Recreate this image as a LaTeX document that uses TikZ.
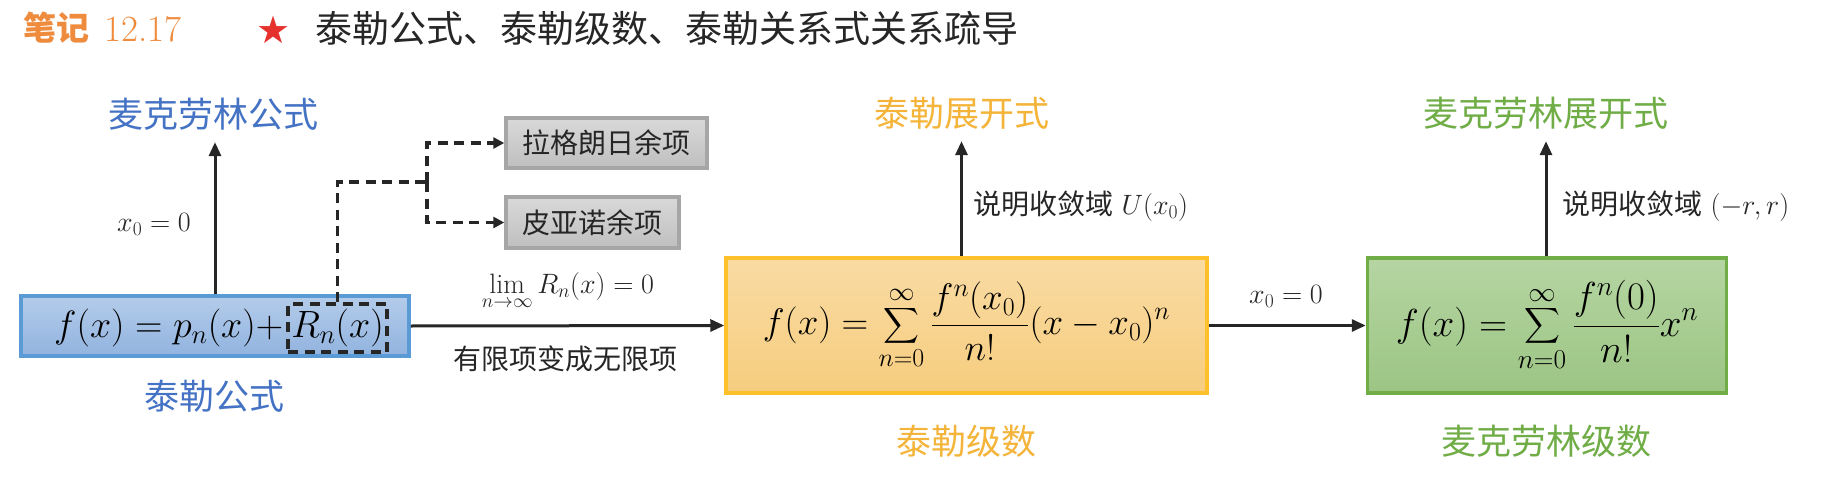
\RequirePackage{fix-cm}
\documentclass[tikz,border=0pt]{standalone}
\usepackage{amsmath}
\usepackage{exscale}
\usepackage{fontspec}
\newfontfamily\cjk{Noto Sans CJK SC}
\newfontfamily\symf{DejaVu Sans}
\usetikzlibrary{arrows.meta,calc}
\newcommand\fsz[1]{\fontsize{#1}{#1}\selectfont}
\definecolor{ink}{HTML}{262626}
\definecolor{titleorange}{HTML}{EF8B3D}
\definecolor{starred}{HTML}{E5322D}
\definecolor{bluetxt}{HTML}{4472C4}
\definecolor{blueborder}{HTML}{5B9BD5}
\definecolor{bluetop}{HTML}{B4CCEA}
\definecolor{bluebot}{HTML}{91B3DF}
\definecolor{grayborder}{HTML}{A6A6A6}
\definecolor{graytop}{HTML}{D9D9D9}
\definecolor{graybot}{HTML}{BFBFBF}
\definecolor{orgtxt}{HTML}{F4B43A}
\definecolor{orgborder}{HTML}{FFC12B}
\definecolor{orgtop}{HTML}{F9DBA3}
\definecolor{orgbot}{HTML}{F6CD7F}
\definecolor{grntxt}{HTML}{70AD47}
\definecolor{grnborder}{HTML}{70AD47}
\definecolor{grntop}{HTML}{B5D5A2}
\definecolor{grnbot}{HTML}{9CC584}
\tikzset{
  arr/.style={line width=3pt, draw=ink, -{Triangle[length=14pt,width=12pt]}},
  dsh/.style={line width=3.2pt, draw=ink, dash pattern=on 10pt off 6.5pt},
  dsharr/.style={dsh, -{Triangle[length=11pt,width=11pt]}},
  bigbox/.style={line width=3.5pt, inner sep=0pt},
  graybox/.style={draw=grayborder, line width=3.5pt, top color=graytop, bottom color=graybot, inner sep=0pt, font=\cjk\fsz{28}, text=ink},
  headlbl/.style={font=\cjk\fsz{35}, inner sep=0pt, outer sep=12pt},
  footlbl/.style={font=\cjk\fsz{35}, inner sep=0pt},
  sidelbl/.style={font=\fsz{28}, text=ink, inner sep=0pt},
}
\begin{document}
\begin{tikzpicture}[x=1pt,y=-1pt]
\useasboundingbox (0,0) rectangle (1829,487);
\fill[white] (0,0) rectangle (1829,487);
% title
\node[anchor=west, inner sep=0pt, text=titleorange, font=\cjk\bfseries\fsz{33}] (tnote) at (23,28) {笔记};
\node[anchor=west, inner sep=0pt, text=titleorange, font=\fsz{37}] (tnum) at (104,29) {12.17};
\node[inner sep=0pt, text=starred, font=\symf\fsz{38}] (tstar) at (274,30) {★};
\node[anchor=west, inner sep=0pt, text=ink, font=\cjk\fsz{37}] (ttext) at (315,28.5) {泰勒公式、泰勒级数、泰勒关系式关系疏导};
% Taylor formula box
\node[bigbox, draw=blueborder, top color=bluetop, bottom color=bluebot, minimum width=388pt, minimum height=60pt] (tf) at (215,326) {};
\node[dsh, draw=ink, minimum width=99pt, minimum height=48pt, inner sep=0pt, font=\fsz{38}] (rbox) at (337.5,328) {$R_n(x)$};
\node[anchor=base east, inner sep=0pt, font=\fsz{38}] (fpart) at ([xshift=-3pt]rbox.base west) {$f(x)=p_n(x)+$};
% labels of blue part
\node[headlbl, text=bluetxt] (mfl) at (213.5,114) {麦克劳林公式};
\node[footlbl, text=bluetxt] (tfl) at (214.5,396) {泰勒公式};
\draw[arr] (tf.north) -- (tf.north |- mfl.south);
\node[sidelbl, anchor=base] (x0a) at (154,231) {$x_0=0$};
% remainder boxes
\node[graybox, minimum width=201pt, minimum height=50pt] (lag) at (606.5,143) {拉格朗日余项};
\node[graybox, minimum width=173pt, minimum height=51pt] (pea) at (592.5,222.5) {皮亚诺余项};
\coordinate (J) at (427,182);
\draw[dsh] (rbox.north) |- (J);
\draw[dsharr] (J) |- (lag.west);
\draw[dsharr] (J) |- (pea.west);
% Taylor series box
\node[bigbox, draw=orgborder, top color=orgtop, bottom color=orgbot, minimum width=481pt, minimum height=135pt, font=\fsz{37}] (ts) at (966.5,325.5) {$\displaystyle f(x)=\sum_{n=0}^{\infty}\frac{f^{n}(x_0)}{n!}(x-x_0)^n$};
\node[headlbl, text=orgtxt] (tzl) at (961.5,113) {泰勒展开式};
\node[footlbl, text=orgtxt] (tsl) at (966,441) {泰勒级数};
\draw[arr] (tzl.south |- ts.north) -- (tzl.south);
\node[sidelbl, anchor=west] (conva) at (973,206) {{\cjk 说明收敛域} $U(x_0)$};
\draw[arr] (tf.east) -- (ts.west);
\node[sidelbl, anchor=base] (limlbl) at (568,293) {$\lim\limits_{n\to\infty} R_n(x)=0$};
\node[sidelbl, font=\cjk\fsz{28}] (finlbl) at (565,359) {有限项变成无限项};
% Maclaurin series box
\node[bigbox, draw=grnborder, top color=grntop, bottom color=grnbot, minimum width=359pt, minimum height=135pt, font=\fsz{39}] (ms) at (1547,325.5) {$\displaystyle f(x)=\sum_{n=0}^{\infty}\frac{f^{n}(0)}{n!}x^n$};
\node[headlbl, text=grntxt] (mzl) at (1546,113) {麦克劳林展开式};
\node[footlbl, text=grntxt] (msl) at (1546,441) {麦克劳林级数};
\draw[arr] (mzl.south |- ms.north) -- (mzl.south);
\node[sidelbl, anchor=west] (convb) at (1562,206) {{\cjk 说明收敛域} $(-r,r)$};
\draw[arr] (ts.east) -- (ms.west);
\node[sidelbl, anchor=base] (x0b) at (1286,303) {$x_0=0$};
\end{tikzpicture}
\end{document}
